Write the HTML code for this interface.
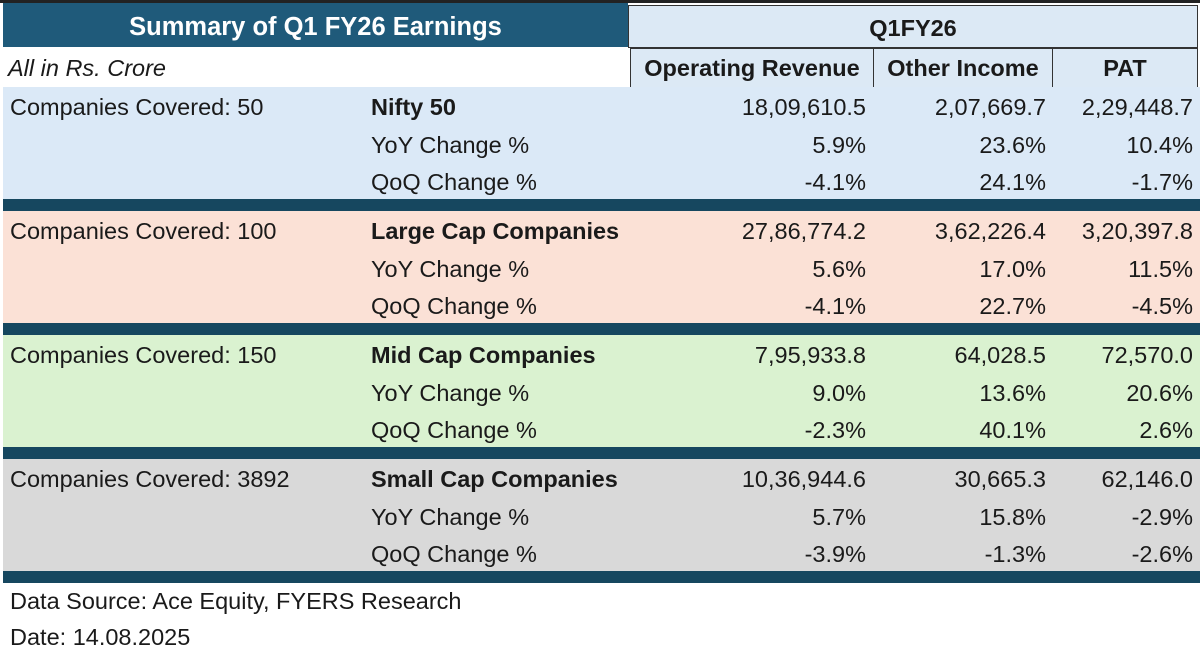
<!DOCTYPE html>
<html><head><meta charset="utf-8"><style>
body{margin:0;width:1200px;height:656px;background:#fff;position:relative;overflow:hidden;font-family:"Liberation Sans",sans-serif;color:#1a1a1a}
div{position:absolute;box-sizing:border-box}
.t{font-size:23.5px;white-space:nowrap;line-height:38px;height:38px}
.r{text-align:right}
.b{font-weight:bold}
.band{left:3px;width:1197px;background:#16475f}
.hd{border:1.5px solid #333;background:#dce9f5;font-weight:bold;font-size:23.5px;text-align:center;line-height:38px;height:40px;white-space:nowrap}
</style></head><body>
<div style="left:0;top:0;width:1200px;height:3px;background:#222"></div>
<div style="left:3px;top:3px;width:625px;height:44px;background:#1f5a7a;color:#fff;font-weight:bold;font-size:25.5px;text-align:center;line-height:48px">Summary of Q1 FY26 Earnings</div>
<div class="hd" style="left:628px;top:5px;width:570px;height:43px;line-height:44px">Q1FY26</div>
<div class="t" style="left:8px;top:49px;font-style:italic">All in Rs. Crore</div>
<div class="hd" style="left:630px;top:48px;width:244px">Operating Revenue</div>
<div class="hd" style="left:873px;top:48px;width:180px">Other Income</div>
<div class="hd" style="left:1052px;top:48px;width:146px">PAT</div>
<div id="tbl"></div>
<div class="t" style="left:10px;top:582px">Data Source: Ace Equity, FYERS Research</div>
<div class="t" style="left:10px;top:618px">Date: 14.08.2025</div>
<script>
const groups=["Nifty 50","Large Cap Companies","Mid Cap Companies","Small Cap Companies"];
const covered=["Companies Covered: 50","Companies Covered: 100","Companies Covered: 150","Companies Covered: 3892"];
const bgs=["#dbe9f7","#fbe1d6","#daf2d0","#d9d9d9"];
const revenue=[["18,09,610.5","5.9%","-4.1%"],["27,86,774.2","5.6%","-4.1%"],["7,95,933.8","9.0%","-2.3%"],["10,36,944.6","5.7%","-3.9%"]];
const otherIncome=[["2,07,669.7","23.6%","24.1%"],["3,62,226.4","17.0%","22.7%"],["64,028.5","13.6%","40.1%"],["30,665.3","15.8%","-1.3%"]];
const pat=[["2,29,448.7","10.4%","-1.7%"],["3,20,397.8","11.5%","-4.5%"],["72,570.0","20.6%","2.6%"],["62,146.0","-2.9%","-2.6%"]];
const rowLabels=[null,"YoY Change %","QoQ Change %"];
const body=document.body;
function add(cls,style,text,name){const d=document.createElement('div');d.className=cls;d.setAttribute('style',style);d.textContent=text;


body.appendChild(d);return d;}
groups.forEach((g,i)=>{
 const top=87+i*124;
 add('', `left:3px;top:${top}px;width:1197px;height:112px;background:${bgs[i]}`,'', 'group-section');
 add('band', `top:${top+112}px;height:12px`,'', 'group-separator');
 for(let r=0;r<3;r++){
  const y=top+1+r*37.5;
  if(r===0) add('t', `left:10px;top:${y}px`, covered[i], 'companies-covered');
  add('t'+(r===0?' b':''), `left:371px;top:${y}px`, r===0?g:rowLabels[r], r===0?'group-name':'row-label');
  add('t r', `left:630px;top:${y}px;width:236px`, revenue[i][r], 'operating-revenue-value');
  add('t r', `left:873px;top:${y}px;width:173px`, otherIncome[i][r], 'other-income-value');
  add('t r', `left:1052px;top:${y}px;width:141px`, pat[i][r], 'pat-value');
 }
});
</script>
</body></html>
